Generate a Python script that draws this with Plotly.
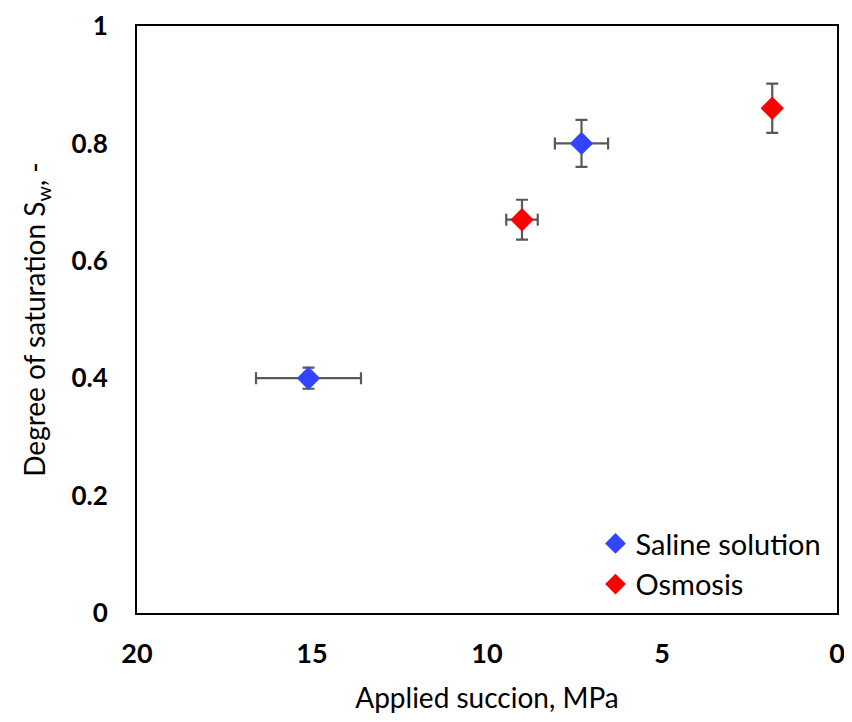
import plotly.graph_objects as go

saline_x = [15.1, 7.3]
saline_y = [0.40, 0.80]
saline_xerr = [1.5, 0.76]
saline_yerr = [0.018, 0.04]

osmosis_x = [9.0, 1.85]
osmosis_y = [0.67, 0.86]
osmosis_xerr = [0.45, 0.0]
osmosis_yerr = [0.034, 0.042]

x_ticks = [20, 15, 10, 5, 0]
y_ticks = [0, 0.2, 0.4, 0.6, 0.8, 1]
y_tick_labels = ["0", "0.2", "0.4", "0.6", "0.8", "1"]

err_color = "#595959"
font_family = "Lato, 'Open Sans', sans-serif"

fig = go.Figure()
fig.add_trace(go.Scatter(
    x=saline_x, y=saline_y, mode="markers", name="Saline solution",
    marker=dict(symbol="diamond", size=18, color="#3344FF"),
    error_x=dict(type="data", array=saline_xerr, color=err_color, thickness=2.2, width=6),
    error_y=dict(type="data", array=saline_yerr, color=err_color, thickness=2.2, width=6),
))
fig.add_trace(go.Scatter(
    x=osmosis_x, y=osmosis_y, mode="markers", name="Osmosis",
    marker=dict(symbol="diamond", size=18, color="#FF0000"),
    error_x=dict(type="data", array=osmosis_xerr, color=err_color, thickness=2.2, width=6),
    error_y=dict(type="data", array=osmosis_yerr, color=err_color, thickness=2.2, width=6),
))

fig.update_layout(
    width=844, height=714,
    margin=dict(l=129, r=15, t=18, b=109),
    plot_bgcolor="white", paper_bgcolor="white",
    font=dict(family=font_family, size=24, color="black"),
    showlegend=True,
    legend=dict(x=0.985, y=0.005, xanchor="right", yanchor="bottom",
                font=dict(size=29, color="black"), bgcolor="rgba(0,0,0,0)",
                itemsizing="trace", tracegroupgap=0),
    xaxis=dict(
        range=[20, 0], tickvals=x_ticks, ticktext=[f"<b>{v}</b>" for v in x_ticks],
        showgrid=False, zeroline=False, ticks="", automargin=False,
        ticklabeloverflow="allow",
        showline=True, linecolor="black", linewidth=2, mirror=True,
        tickfont=dict(size=27), ticklabelstandoff=16,
        title=dict(text="Applied succion, MPa", font=dict(size=28), standoff=20),
    ),
    yaxis=dict(
        range=[0, 1], tickvals=y_ticks, ticktext=[f"<b>{t}</b>" for t in y_tick_labels],
        showgrid=False, zeroline=False, ticks="", automargin=False,
        ticklabeloverflow="allow",
        showline=True, linecolor="black", linewidth=2, mirror=True,
        tickfont=dict(size=26), ticklabelstandoff=22,
        title=dict(text="Degree of saturation S<sub>w</sub>, -", font=dict(size=28), standoff=18),
    ),
)

fig.write_html("out.html")
